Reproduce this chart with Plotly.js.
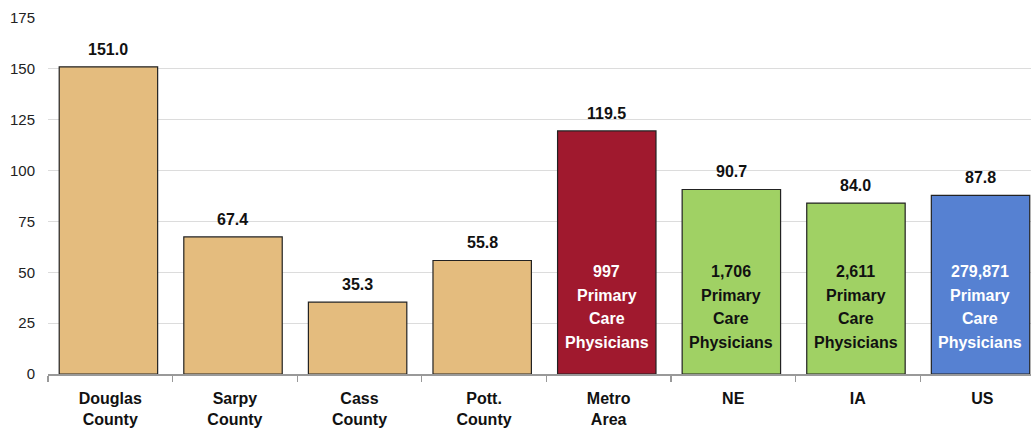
<!DOCTYPE html>
<html><head><meta charset="utf-8">
<script src="https://cdn.plot.ly/plotly-3.0.1.min.js"></script>
<style>html,body{margin:0;padding:0;background:#fff;}</style>
</head><body>
<div id="chart" style="width:1031px;height:430px;"></div>
<script>
const categories = ["Douglas<br>County", "Sarpy<br>County", "Cass<br>County", "Pott.<br>County", "Metro<br>Area", "NE", "IA", "US"];
const values = [151.0, 67.4, 35.3, 55.8, 119.5, 90.7, 84.0, 87.8];
const barColors = ["#E4BC7E", "#E4BC7E", "#E4BC7E", "#E4BC7E", "#A0192E", "#A0D164", "#A0D164", "#5681D2"];
const physicians = ["", "", "", "", "997", "1,706", "2,611", "279,871"];
const innerLines = ["Primary", "Care", "Physicians"];
const innerTextColors = ["", "", "", "", "#ffffff", "#111111", "#111111", "#ffffff"];
const yTicks = [0, 25, 50, 75, 100, 125, 150, 175];

const FONT = "Liberation Sans, Arial, sans-serif";
const annotations = [];
categories.forEach((c, i) => {
  annotations.push({
    x: c, y: values[i], xref: "x", yref: "y",
    text: values[i].toFixed(1), showarrow: false,
    yanchor: "bottom", yshift: 7, xshift: -2,
    font: {family: FONT, size: 16, color: "#111", weight: "bold"}
  });
  if (physicians[i]) {
    const lines = [physicians[i]].concat(innerLines);
    const shifts = [35.5, 12, -11.5, -35];
    lines.forEach((t, k) => {
      annotations.push({
        x: c, y: 32.7, xref: "x", yref: "y",
        text: t, showarrow: false, yanchor: "middle", yshift: shifts[k], xshift: -2,
        font: {family: FONT, size: 16, color: innerTextColors[i], weight: "bold"}
      });
    });
  }
});

const trace = {
  type: "bar", x: categories, y: values,
  width: 0.79, offset: -0.41,
  marker: {color: barColors, line: {color: "#222", width: 1.2}},
  hoverinfo: "skip"
};

const layout = {
  width: 1031, height: 430,
  margin: {l: 48, r: 0, t: 18, b: 56},
  paper_bgcolor: "#fff", plot_bgcolor: "#fff",
  showlegend: false,
  xaxis: {
    range: [-0.5, 7.39],
    showline: true, linecolor: "#999", linewidth: 1.5,
    ticks: "outside", tickson: "boundaries", ticklen: 6, tickcolor: "#999", tickwidth: 1.2,
    ticklabelstandoff: 9,
    tickfont: {family: FONT, size: 16, color: "#111", weight: "bold"},
    showgrid: false, fixedrange: true
  },
  yaxis: {
    range: [0, 175], tickvals: yTicks, ticktext: yTicks.map(String),
    showgrid: true, gridcolor: "#dcdcdc", gridwidth: 1,
    zeroline: false, showline: false, ticks: "",
    ticklabelstandoff: 12,
    tickfont: {family: FONT, size: 15, color: "#222"},
    fixedrange: true
  },
  annotations: annotations,
  font: {family: FONT}
};

Plotly.newPlot("chart", [trace], layout, {displayModeBar: false, staticPlot: true});
</script>
</body></html>
